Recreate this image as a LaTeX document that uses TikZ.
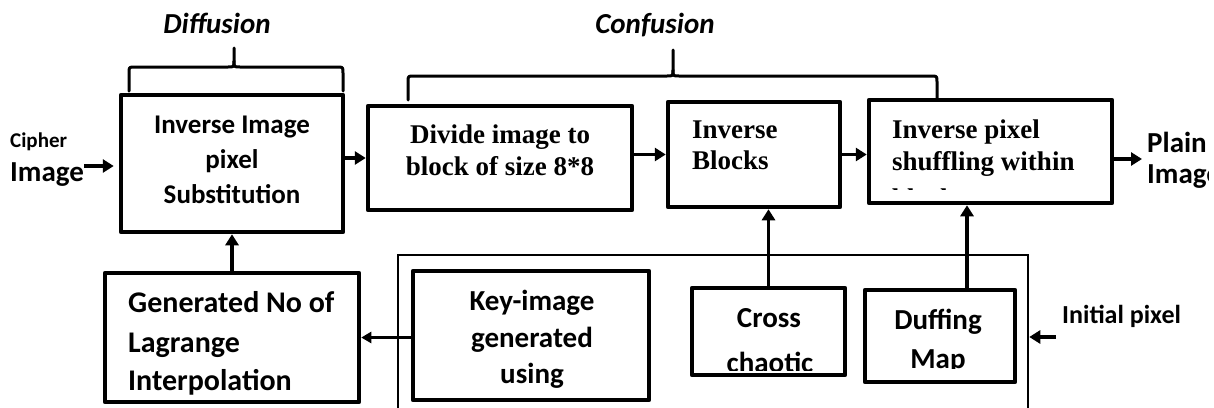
\documentclass[tikz,border=0pt]{standalone}
\usepackage{fontspec}
\usetikzlibrary{arrows.meta}
\newfontfamily\calib{Carlito}
\newfontfamily\tms{Liberation Serif}

\tikzset{
  blk/.style={draw, line width=4.5pt, inner sep=0pt, line join=round},
  frame/.style={draw, line width=2.5pt, inner sep=0pt},
  arr/.style={line width=3.8pt, -{Triangle[length=11pt,width=13pt]}},
  thinarr/.style={line width=2.5pt, -{Triangle[length=10pt,width=11pt]}},
  brace/.style={line width=3pt, line join=round, line cap=round},
  lbl/.style={inner sep=0pt, anchor=base},
  lblw/.style={lbl, anchor=base west},
  sans/.style={font=\calib\bfseries\fontsize{#1}{#1}\selectfont},
  serif/.style={font=\tms\bfseries\fontsize{#1}{#1}\selectfont},
}

\begin{document}
\begin{tikzpicture}[x=1pt,y=-1pt]
\useasboundingbox (0,0) rectangle (1214,407);
\fill[white] (0,0) rectangle (1214,407);
\clip (0,0) rectangle (1214,407);

% stage boxes
\node[blk, minimum width=222pt, minimum height=137pt] (A) at (232,163.5) {};
\node[blk, minimum width=264pt, minimum height=104pt] (B) at (500,158) {};
\node[blk, minimum width=172pt, minimum height=105pt] (C) at (754,154.5) {};
\node[blk, minimum width=243pt, minimum height=103pt] (D) at (990.5,151.5) {};
\node[blk, minimum width=254pt, minimum height=129pt] (E) at (232,337.5) {};
\node[frame, minimum width=630pt, minimum height=195pt] (O) at (713,352.5) {};
\node[blk, minimum width=236pt, minimum height=129pt] (F) at (531,335.5) {};
\node[blk, minimum width=153pt, minimum height=87pt] (G) at (768.5,331.5) {};
\node[blk, minimum width=150pt, minimum height=92pt] (H) at (940,336) {};

% box texts
\node[lbl, sans=27] (a1) at (232,133) {Inverse Image};
\node[lbl, sans=27] (a2) at (232,168) {pixel};
\node[lbl, sans=27] (a3) at (232,203) {Substitution};

\node[lbl, serif=27] (b1) at (500,143) {Divide image to};
\node[lbl, serif=27] (b2) at (500,175) {block of size 8*8};

\node[lblw, serif=27] (c1) at (692,138) {Inverse};
\node[lblw, serif=27] (c2) at (692,169) {Blocks};

\node[lblw, serif=27] (d1) at (892,138) {Inverse pixel};
\node[lblw, serif=27] (d2) at (892,170) {shuffling within};
\begin{scope}
  \clip (869,100) rectangle (1112,189);
  \node[lblw, serif=27] (d3) at (892,207) {blocks};
\end{scope}

\node[lblw, sans=30] (e1) at (128,312) {Generated No of};
\node[lblw, sans=30] (e2) at (128,352) {Lagrange};
\node[lblw, sans=30] (e3) at (128,390) {Interpolation};

\node[lbl, sans=29] (f1) at (532,310) {Key-image};
\node[lbl, sans=29] (f2) at (532,347) {generated};
\node[lbl, sans=29] (f3) at (532,383) {using};

\node[lbl, sans=29] (g1) at (769,327) {Cross};
\begin{scope}
  \clip (692,288) rectangle (845,370);
  \node[lbl, sans=29] (g2) at (770,372) {chaotic};
\end{scope}

\node[lbl, sans=29] (h1) at (938,329) {Duffing};
\begin{scope}
  \clip (865,290) rectangle (1015,368);
  \node[lbl, sans=29] (h2) at (938,368) {Map};
\end{scope}

% inputs and outputs
\node[lblw, sans=21] (cin1) at (10,147) {Cipher};
\node[lblw, sans=29] (cin2) at (10,181) {Image};
\node[lblw, sans=29] (pout1) at (1147,152) {Plain};
\begin{scope}
  \clip (1140,160) rectangle (1208,200);
  \node[lblw, sans=29] (pout2) at (1147,183) {Image};
\end{scope}
\node[lblw, sans=26] (ipx) at (1062,323) {Initial pixel};

% stage labels
\node[lbl, font=\calib\bfseries\itshape\fontsize{29}{29}\selectfont] (dif) at (217,33) {Diffusion};
\node[lbl, font=\calib\bfseries\itshape\fontsize{29}{29}\selectfont] (con) at (655,33) {Confusion};

% braces
\draw[brace] (129,91) -- (129,73) .. controls (129,67) .. (135,67) -- (228,67)
  .. controls (234,67) .. (234,61) -- (234,48);
\draw[brace] (234,61) .. controls (234,67) .. (240,67) -- (337,67)
  .. controls (343,67) .. (343,73) -- (343,91);
\draw[brace] (408,100) -- (408,82) .. controls (408,76) .. (414,76) -- (667,76)
  .. controls (673,76) .. (673,70) -- (673,50);
\draw[brace] (673,70) .. controls (673,76) .. (679,76) -- (931,76)
  .. controls (937,76) .. (937,82) -- (937,99);

% connectors
\coordinate (cinA) at (84,166);
\coordinate (poutA) at (1142,159);
\coordinate (hd) at (967,0);
\coordinate (ipA) at (1056,337);

\draw[arr] (cinA) -- ([xshift=-5pt]A.west |- cinA);
\draw[arr] (A.east |- B.west) -- (B.west);
\draw[arr] (B.east |- C.west) -- (C.west);
\draw[arr] (C.east) -- (C.east -| D.west);
\draw[arr] (D.east |- poutA) -- (poutA);
\draw[arr] (E.north) -- (A.south);
\draw[thinarr] (F.west |- E.east) -- (E.east);
\draw[arr, line width=3.3pt] (G.north) -- (G.north |- C.south);
\draw[arr, line width=3.3pt] (H.north -| hd) -- (D.south -| hd);
\draw[arr, line width=3.3pt] (ipA) -- (ipA -| O.east);
\end{tikzpicture}
\end{document}
